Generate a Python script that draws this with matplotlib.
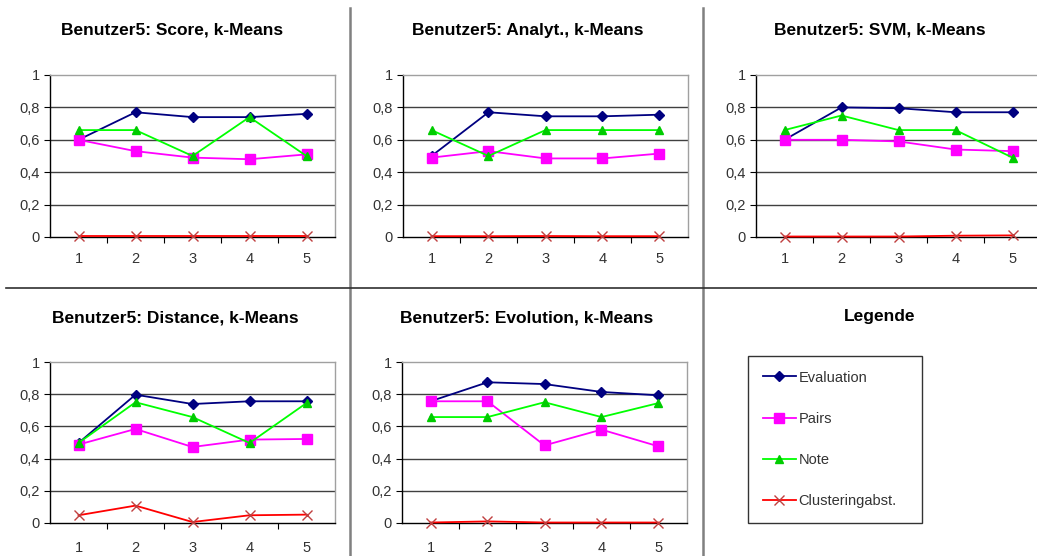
import matplotlib
matplotlib.use("Agg")
import matplotlib.pyplot as plt
from matplotlib.lines import Line2D

plt.rcParams["font.family"] = ["Liberation Sans", "DejaVu Sans"]

# ─── Data ─────────────────────────────────────────────────────────────────────
RUNS = [1, 2, 3, 4, 5]
SERIES = ["Evaluation", "Pairs", "Note", "Clusteringabst."]
Y_TICKS = [0, 0.2, 0.4, 0.6, 0.8, 1]
Y_LABELS = ["0", "0,2", "0,4", "0,6", "0,8", "1"]

TITLES = [
    "Benutzer5: Score, k-Means",
    "Benutzer5: Analyt., k-Means",
    "Benutzer5: SVM, k-Means",
    "Benutzer5: Distance, k-Means",
    "Benutzer5: Evolution, k-Means",
]

score_eval    = [0.60, 0.77, 0.74, 0.74, 0.76]
score_pairs   = [0.60, 0.53, 0.49, 0.48, 0.51]
score_note    = [0.66, 0.66, 0.50, 0.74, 0.50]
score_clust   = [0.005, 0.005, 0.005, 0.005, 0.005]

analyt_eval   = [0.50, 0.77, 0.745, 0.745, 0.755]
analyt_pairs  = [0.49, 0.53, 0.485, 0.485, 0.515]
analyt_note   = [0.66, 0.50, 0.66, 0.66, 0.66]
analyt_clust  = [0.005, 0.005, 0.006, 0.005, 0.005]

svm_eval      = [0.60, 0.80, 0.795, 0.77, 0.77]
svm_pairs     = [0.60, 0.60, 0.59, 0.54, 0.53]
svm_note      = [0.66, 0.75, 0.66, 0.66, 0.49]
svm_clust     = [0.003, 0.003, 0.003, 0.008, 0.01]

dist_eval     = [0.497, 0.797, 0.739, 0.756, 0.756]
dist_pairs    = [0.487, 0.584, 0.472, 0.518, 0.522]
dist_note     = [0.497, 0.750, 0.658, 0.497, 0.745]
dist_clust    = [0.048, 0.108, 0.006, 0.048, 0.052]

evo_eval      = [0.756, 0.874, 0.863, 0.814, 0.793]
evo_pairs     = [0.756, 0.756, 0.482, 0.580, 0.476]
evo_note      = [0.658, 0.658, 0.750, 0.658, 0.745]
evo_clust     = [0.003, 0.010, 0.003, 0.003, 0.003]

PANELS = [
    [score_eval, score_pairs, score_note, score_clust],
    [analyt_eval, analyt_pairs, analyt_note, analyt_clust],
    [svm_eval, svm_pairs, svm_note, svm_clust],
    [dist_eval, dist_pairs, dist_note, dist_clust],
    [evo_eval, evo_pairs, evo_note, evo_clust],
]

# ─── Style ────────────────────────────────────────────────────────────────────
STYLE = {
    "Evaluation":      dict(color="#000080", marker="D", ms=5.5, mfc="#000080", mec="#000080"),
    "Pairs":           dict(color="#FF00FF", marker="s", ms=7.5, mfc="#FF00FF", mec="#FF00FF"),
    "Note":            dict(color="#00FF00", marker="^", ms=5.5, mfc="#00CC00", mec="#00CC00"),
    "Clusteringabst.": dict(color="#FF0000", marker="x", ms=7, mfc="none", mec="#C04040"),
}

W, H = 1037, 556
# (left, right, top, bottom) in pixels, title centre (x, y), x-label pad
BOXES = [
    (50, 335, 75, 237, 172, 30, 10.5),
    (403, 688, 75, 237, 528, 30, 10.5),
    (756, 1041, 75, 237, 880, 30, 10.5),
    (50, 335, 362, 523, 175, 318, 13),
    (402, 687, 362, 523, 527, 318, 13),
]

fig = plt.figure(figsize=(W / 100, H / 100), dpi=100, facecolor="white")

axes = []
for (l, r, t, b, tx, ty, xpad), title, series in zip(BOXES, TITLES, PANELS):
    ax = fig.add_axes([l / W, 1 - b / H, (r - l) / W, (b - t) / H])
    axes.append(ax)
    ax.set_xlim(0.5, 5.5)
    ax.set_ylim(0, 1)
    for y in Y_TICKS[1:-1]:
        ax.axhline(y, color="#404040", lw=1.0, zorder=1)
    for name, vals in zip(SERIES, series):
        st = STYLE[name]
        ax.plot(RUNS, vals, label=name, color=st["color"], lw=1.3,
                marker=st["marker"], markersize=st["ms"],
                markerfacecolor=st["mfc"], markeredgecolor=st["mec"],
                markeredgewidth=1.0, zorder=3, clip_on=False)
    ax.spines["top"].set_color("#A0A0A0")
    ax.spines["right"].set_color("#A0A0A0")
    ax.spines["left"].set_color("#000000")
    ax.spines["bottom"].set_color("#000000")
    for s in ax.spines.values():
        s.set_linewidth(1.0)
    ax.set_yticks(Y_TICKS)
    ax.set_yticklabels(Y_LABELS)
    ax.set_xticks([1.5, 2.5, 3.5, 4.5], minor=False)
    ax.set_xticklabels([])
    ax.set_xticks(RUNS, minor=True)
    ax.set_xticklabels([str(v) for v in RUNS], minor=True)
    ax.tick_params(axis="x", which="major", direction="out", length=4, color="black")
    ax.tick_params(axis="x", which="minor", length=0, pad=xpad, labelsize=10.5,
                   labelcolor="#333333")
    ax.tick_params(axis="y", direction="out", length=4, color="black", pad=3.5,
                   labelsize=10.5, labelcolor="#333333")
    fig.text(tx / W, 1 - ty / H, title, ha="center", va="center",
             fontsize=12.5, fontweight="bold")

# Legend panel
fig.text(880 / W, 1 - 317 / H, "Legende", ha="center", va="center",
         fontsize=12.5, fontweight="bold")
handles, labels = axes[0].get_legend_handles_labels()
leg_top = 1 - 356 / H
leg = fig.legend(handles, labels, loc="upper left",
                 bbox_to_anchor=(748 / W, leg_top - 0.01, 174 / W, 0.01),
                 mode="expand", fontsize=10.5, frameon=True, fancybox=False,
                 edgecolor="#000000", handlelength=2.3, handletextpad=0.15,
                 labelspacing=1.86, borderpad=1.0, borderaxespad=0)
leg.get_frame().set_linewidth(1.0)
for t in leg.get_texts():
    t.set_color("#333333")

# Cell separators
fig.add_artist(Line2D([350 / W, 350 / W], [1 - 8 / H, 0], color="#808080", lw=1.8))
fig.add_artist(Line2D([703 / W, 703 / W], [1 - 8 / H, 0], color="#808080", lw=1.8))
fig.add_artist(Line2D([6 / W, 1], [1 - 288 / H, 1 - 288 / H], color="#303030", lw=1.2))

fig.savefig("out.png", dpi=100, facecolor="white")
